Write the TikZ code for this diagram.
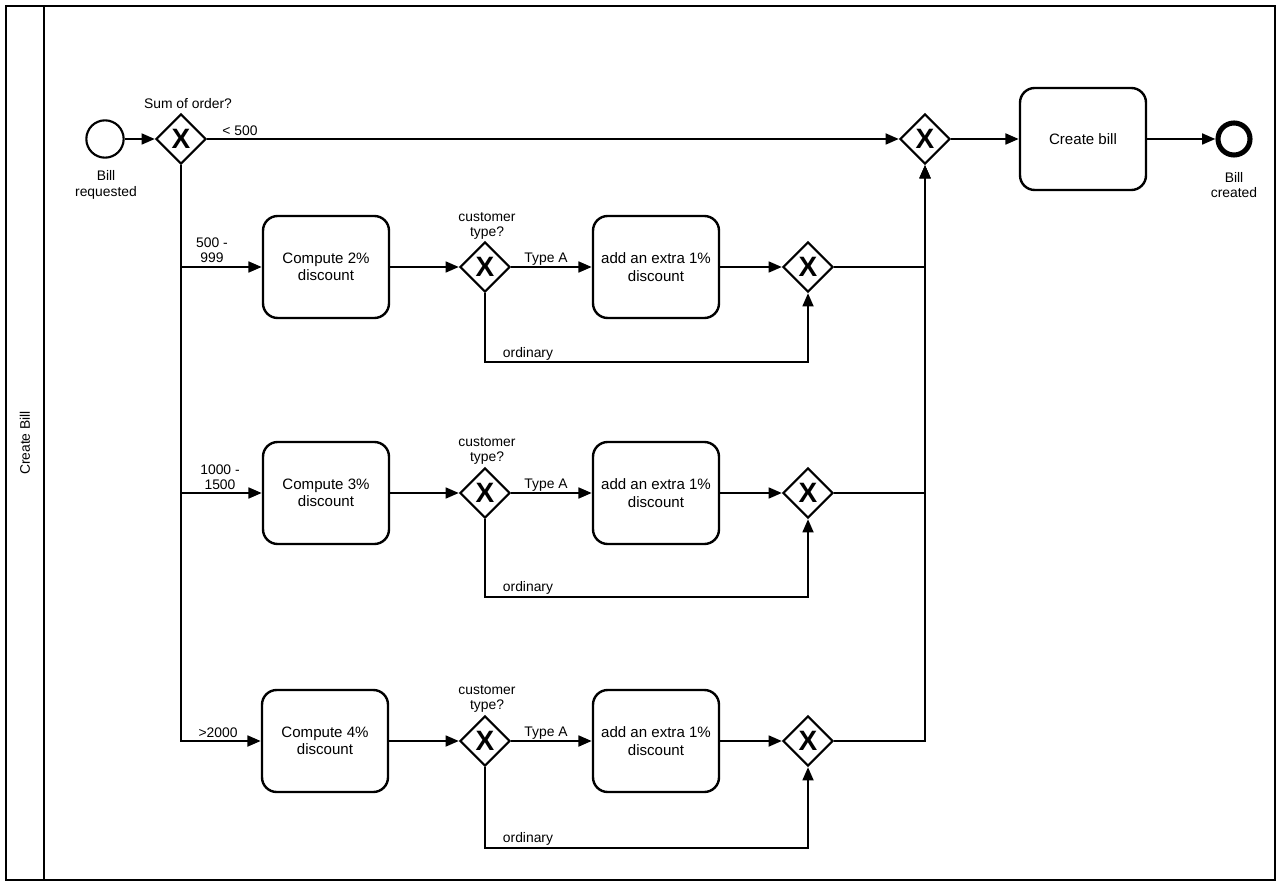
\documentclass[tikz,border=0pt]{standalone}
\usepackage{fontspec}
\setmainfont{Liberation Sans}
\usetikzlibrary{shapes.geometric, arrows.meta}

\tikzset{
  flow/.style={line width=2pt, -{Triangle[length=10pt,width=8pt]}},
  task/.style={draw, line width=1.8pt, rounded corners=11pt, minimum width=94.5pt,
    minimum height=76.5pt, align=center, font=\fontsize{11.3}{13}\selectfont},
  gate/.style={draw, diamond, line width=1.6pt, minimum width=37.5pt, minimum height=37.5pt,
    inner sep=0pt, font=\fontsize{21}{21}\selectfont\bfseries},
  lbl/.style={align=center, inner sep=0pt, font=\fontsize{10.4}{11.5}\selectfont}
}

\begin{document}
\begin{tikzpicture}[x=0.75pt, y=-0.75pt]
    \useasboundingbox (0,0) rectangle (1280,887);

    % Pool and lane
    \draw[line width=2.2pt] (6,6) rectangle (1275,880);
    \draw[line width=2.2pt] (44,6) -- (44,880);
    \node[rotate=90, font=\fontsize{10.4}{12}\selectfont] (lane) at (25,443) {Create Bill};

    % Start, first split, final merge, end
    \node[draw, circle, line width=1.6pt, minimum size=28pt] (start) at (105,139) {};
    \node[gate] (gw0) at (181,139) {X};
    \node[gate] (merge0) at (925,139) {X};
    \node[task] (bill) at (1083,139) {Create bill};
    \node[draw, circle, line width=3.8pt, minimum size=24pt] (end) at (1234,139) {};

    % Row 1: 500 - 999
    \node[task] (comp2) at (326,267) {Compute 2\%\\discount};
    \node[gate] (gw2a) at (485,267) {X};
    \node[task] (extra2) at (656,267) {add an extra 1\%\\discount};
    \node[gate] (mrg2) at (808,267) {X};
    \coordinate (o2) at (485,362); % ordinary corner

    % Row 2: 1000 - 1500
    \node[task] (comp3) at (326,493) {Compute 3\%\\discount};
    \node[gate] (gw3a) at (485,493) {X};
    \node[task] (extra3) at (656,493) {add an extra 1\%\\discount};
    \node[gate] (mrg3) at (808,493) {X};
    \coordinate (o3) at (485,597); % ordinary corner

    % Row 3: >2000
    \node[task] (comp4) at (325,741) {Compute 4\%\\discount};
    \node[gate] (gw4a) at (485,741) {X};
    \node[task] (extra4) at (656,741) {add an extra 1\%\\discount};
    \node[gate] (mrg4) at (808,741) {X};
    \coordinate (o4) at (485,848); % ordinary corner

    % Main flows
    \draw[flow] (start) -- (gw0);
    \draw[flow] (gw0.east) -- (merge0.west);
    \draw[flow] (merge0) -- (bill);
    \draw[flow] (bill) -- (end);
    \draw[flow] (gw0.south) |- (comp2.west);
    \draw[flow] (gw0.south) |- (comp3.west);
    \draw[flow] (gw0.south) |- (comp4.west);

    % Row flows
    \draw[flow] (comp2) -- (gw2a);
    \draw[flow] (gw2a) -- (extra2);
    \draw[flow] (extra2) -- (mrg2);
    \draw[flow] (gw2a.south) -- (o2) -| (mrg2.south);
    \draw[flow] (mrg2.east) -| (merge0.south);

    \draw[flow] (comp3) -- (gw3a);
    \draw[flow] (gw3a) -- (extra3);
    \draw[flow] (extra3) -- (mrg3);
    \draw[flow] (gw3a.south) -- (o3) -| (mrg3.south);
    \draw[flow] (mrg3.east) -| (merge0.south);

    \draw[flow] (comp4) -- (gw4a);
    \draw[flow] (gw4a) -- (extra4);
    \draw[flow] (extra4) -- (mrg4);
    \draw[flow] (gw4a.south) -- (o4) -| (mrg4.south);
    \draw[flow] (mrg4.east) -| (merge0.south);

    % Labels
    \node[lbl] (lstart) at (106,185) {Bill\\requested};
    \node[lbl] (lend) at (1234,185) {Bill\\created};
    \node[lbl] (lsum) at (188,104) {Sum of order?};
    \node[lbl] (l500) at (240,131) {< 500};
    \node[lbl] (l999) at (212,250) {500 -\\999};
    \node[lbl] (l1500) at (220,477) {1000 -\\1500};
    \node[lbl] (l2000) at (218,733) {>2000};

    \node[lbl] (q2) at (487,226) {customer\\type?};
    \node[lbl] (q3) at (487,451) {customer\\type?};
    \node[lbl] (q4) at (487,699) {customer\\type?};
    \node[lbl] (ta2) at (546,259) {Type A};
    \node[lbl] (ta3) at (546,485) {Type A};
    \node[lbl] (ta4) at (546,733) {Type A};
    \node[lbl] (ord2) at (528,354) {ordinary};
    \node[lbl] (ord3) at (528,588) {ordinary};
    \node[lbl] (ord4) at (528,839) {ordinary};
\end{tikzpicture}
\end{document}
